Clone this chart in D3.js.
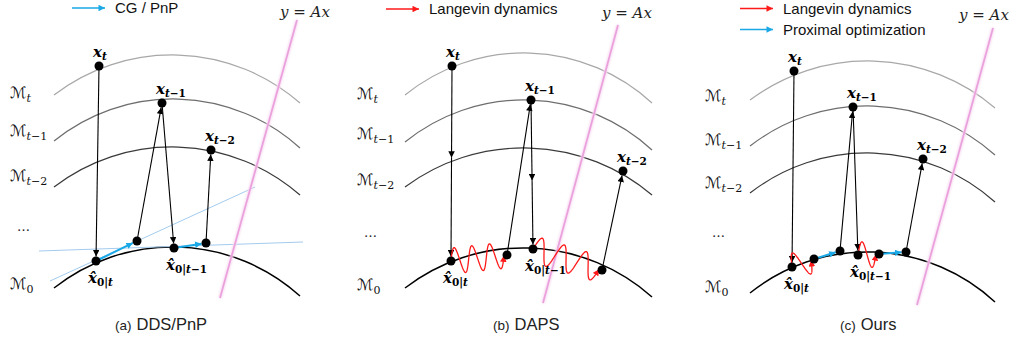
<!DOCTYPE html>
<html>
<head>
<meta charset="utf-8">
<script src="https://cdn.jsdelivr.net/npm/d3@7"></script>
<style>
  body { margin: 0; background: #fff; }
  svg { display: block; }
</style>
</head>
<body>
<svg id="fig" width="1011" height="341"></svg>
<script>
// ---- data (panel-local units, one panel is 340 wide) ----
const captionTags = ['(a)', '(b)', '(c)'];
const captionNames = ['DDS/PnP', 'DAPS', 'Ours'];
const levelSubs = ['t', 't−1', 't−2', null, '0'];

// manifolds: [xStart, yStart, yPeak, xEnd, yEnd]
const arcsA = [[54, 95, 55, 300, 103], [54, 141, 99, 300, 148], [54, 187, 147, 300, 195], [54, 288, 247, 300, 296]];
const arcsB = [[65, 95, 53, 312, 103], [65, 142, 100, 312, 150], [65, 187, 148, 312, 195], [65, 288, 248, 312, 297]];
const arcsC = [[70, 100, 61, 315, 108], [70, 146, 106, 315, 155], [70, 193, 153, 315, 202], [70, 293, 252, 315, 302]];
const levelLabelY = [[98, 136, 181, 231, 289], [99, 139, 185, 237, 290], [101, 145, 188, 237, 292]];
const levelLabelX = [10, 17, 25];

const pointsA = { xt: [99, 66], xt1: [162, 103], xt2: [211, 150], h0t: [96, 261], p1: [137, 241], h0t1: [174, 248], p2: [206, 243] };
const pointsB = { xt: [112, 66], xt1: [191, 100], xt2: [283, 171], h0t: [111, 261], p1: [167, 255], h0t1: [193, 249], p2: [262, 270] };
const pointsC = { xt: [114, 71], xt1: [173, 107], xt2: [243, 159], h0t: [112, 267], q1: [134, 259], p1: [160, 251], h0t1: [178, 255], q2: [199, 254], p2: [226, 252] };

const pointLabels = { xt: 't', xt1: 't−1', xt2: 't−2' };
const hatLabels = { h0t: '0|t', h0t1: '0|t−1' };

// black arrows [from, to, midFraction]
const blackA = [['xt', 'h0t'], ['p1', 'xt1'], ['xt1', 'h0t1'], ['p2', 'xt2']];
const blackB = [['xt', 'h0t', 0.47], ['p1', 'xt1'], ['xt1', 'h0t1', 0.54], ['p2', 'xt2']];
const blackC = [['xt', 'h0t'], ['p1', 'xt1'], ['xt1', 'h0t1'], ['p2', 'xt2']];
const blueA = [['h0t', 'p1'], ['h0t1', 'p2']];
const blueC = [['q1', 'p1'], ['q2', 'p2']];
// Langevin waves [from, to, cycles]
const redB = [['h0t', 'p1', 3], ['h0t1', 'p2', 3]];
const redC = [['h0t', 'q1', 1], ['h0t1', 'q2', 1]];
const tangentsA = [[[50, 281], [255, 187]], [[39, 251], [303, 242]]];

const pinkLines = [[[297, 20], [220, 298]], [[278, 25], [203, 303]], [[313, 28], [237, 305]]];
const eqPos = [[280, 17], [262, 18], [279, 20]];
const legends = [
  [['blue', 'CG / PnP']],
  [['red', 'Langevin dynamics']],
  [['red', 'Langevin dynamics'], ['blue', 'Proximal optimization']]
];
const legendPos = [[72, 8], [46, 9], [60, 8.5]];
const captionX = [115, 153, 160];

const arcColors = ['#a8a8a8', '#6e6e6e', '#3a3a3a', '#000'];
const BLUE = '#1aa9e6', RED = '#ff1a1a';

const panels = [
  { arcs: arcsA, pts: pointsA, black: blackA, blue: blueA, red: [], tangents: tangentsA },
  { arcs: arcsB, pts: pointsB, black: blackB, blue: [], red: redB, tangents: [] },
  { arcs: arcsC, pts: pointsC, black: blackC, blue: blueC, red: redC, tangents: [] }
];

const svg = d3.select('#fig');
const y = d3.scaleLinear().domain([0, 341]).range([0, 341]);
const R = 4.5;

const defs = svg.append('defs');
[['black', '#000'], ['blue', BLUE], ['red', RED]].forEach(([id, c]) => {
  defs.append('marker')
    .attr('id', 'ah-' + id)
    .attr('viewBox', '0 0 10 10')
    .attr('refX', 10).attr('refY', 5)
    .attr('markerWidth', 7).attr('markerHeight', 6.5)
    .attr('markerUnits', 'userSpaceOnUse')
    .attr('orient', 'auto')
    .append('path').attr('d', 'M0,0 L10,5 L0,10 z').attr('fill', c);
});
defs.append('filter').attr('id', 'glow').attr('x', '-50%').attr('y', '-10%').attr('width', '200%').attr('height', '120%')
  .append('feGaussianBlur').attr('stdDeviation', 1.2);

function circleFrom3(a, b, c) {
  const [x1, y1] = a, [x2, y2] = b, [x3, y3] = c;
  const d = 2 * (x1 * (y2 - y3) + x2 * (y3 - y1) + x3 * (y1 - y2));
  const ux = ((x1 * x1 + y1 * y1) * (y2 - y3) + (x2 * x2 + y2 * y2) * (y3 - y1) + (x3 * x3 + y3 * y3) * (y1 - y2)) / d;
  const uy = ((x1 * x1 + y1 * y1) * (x3 - x2) + (x2 * x2 + y2 * y2) * (x1 - x3) + (x3 * x3 + y3 * y3) * (x2 - x1)) / d;
  return [ux, uy, Math.hypot(x1 - ux, y1 - uy)];
}

function shorten(a, b, r) {
  const dx = b[0] - a[0], dy = b[1] - a[1], L = Math.hypot(dx, dy);
  return [b[0] - dx / L * r, b[1] - dy / L * r];
}

function subText(sel, sub, size, dy) {
  // italic letters, upright digits/signs
  const parts = sub.match(/[a-z]+|[^a-z]+/g);
  parts.forEach((p, k) => {
    const t = sel.append('tspan').attr('font-size', size).text(p)
      .attr('font-style', /[a-z]/.test(p) ? 'italic' : 'normal');
    if (k === 0) t.attr('dy', dy);
  });
}

panels.forEach((P, i) => {
  const x = d3.scaleLinear().domain([0, 340]).range([i * 340, i * 340 + 340]);
  const g = svg.append('g');
  const px = p => [x(p[0]), y(p[1])];

  // manifolds
  P.arcs.forEach((a, k) => {
    const s = px([a[0], a[1]]), e = px([a[3], a[4]]), m = px([(a[0] + a[3]) / 2, a[2]]);
    const [cx, cy, r] = circleFrom3(s, m, e);
    const path = d3.path();
    path.arc(cx, cy, r, Math.atan2(s[1] - cy, s[0] - cx), Math.atan2(e[1] - cy, e[0] - cx));
    g.append('path').attr('d', path.toString()).attr('fill', 'none')
      .attr('stroke', arcColors[k]).attr('stroke-width', k === 3 ? 1.5 : 1.2);
  });

  // manifold labels
  levelSubs.forEach((s, k) => {
    const ly = y(levelLabelY[i][k]);
    if (s === null) {
      g.append('text').attr('x', x(levelLabelX[i] + 7)).attr('y', ly)
        .attr('font-family', 'DejaVu Serif').attr('font-size', 13).attr('fill', '#222').text('…');
      return;
    }
    const t = g.append('text').attr('x', x(levelLabelX[i])).attr('y', ly)
      .attr('font-family', 'DejaVu Serif').attr('fill', '#111');
    t.append('tspan').attr('font-family', 'DejaVu Sans').attr('font-size', 15.5).text('ℳ');
    subText(t, s, 11, 4);
  });

  // tangent lines
  P.tangents.forEach(([a, b]) => {
    g.append('line').attr('x1', x(a[0])).attr('y1', y(a[1])).attr('x2', x(b[0])).attr('y2', y(b[1]))
      .attr('stroke', '#a3cbee').attr('stroke-width', 1);
  });

  // y = Ax line
  const [pa, pb] = pinkLines[i];
  g.append('line').attr('x1', x(pa[0])).attr('y1', y(pa[1])).attr('x2', x(pb[0])).attr('y2', y(pb[1]))
    .attr('stroke', '#f7daf1').attr('stroke-width', 3.5).attr('filter', 'url(#glow)');
  g.append('line').attr('x1', x(pa[0])).attr('y1', y(pa[1])).attr('x2', x(pb[0])).attr('y2', y(pb[1]))
    .attr('stroke', '#eaa0dc').attr('stroke-width', 1.7);

  const eq = g.append('text').attr('x', x(eqPos[i][0])).attr('y', y(eqPos[i][1]))
    .attr('font-family', 'DejaVu Serif').attr('font-size', 15).attr('fill', '#222');
  eq.append('tspan').attr('font-style', 'italic').text('y');
  eq.append('tspan').text(' = ');
  eq.append('tspan').attr('font-style', 'italic').text('Ax');

  // black arrows
  P.black.forEach(([f, t, mid]) => {
    const a = px(P.pts[f]), b = px(P.pts[t]);
    const end = shorten(a, b, R);
    if (mid) {
      const m = [a[0] + (b[0] - a[0]) * mid, a[1] + (b[1] - a[1]) * mid];
      g.append('line').attr('x1', a[0]).attr('y1', a[1]).attr('x2', m[0]).attr('y2', m[1])
        .attr('stroke', '#000').attr('stroke-width', 1.1).attr('marker-end', 'url(#ah-black)');
      g.append('line').attr('x1', m[0]).attr('y1', m[1]).attr('x2', end[0]).attr('y2', end[1])
        .attr('stroke', '#000').attr('stroke-width', 1.1).attr('marker-end', 'url(#ah-black)');
    } else {
      g.append('line').attr('x1', a[0]).attr('y1', a[1]).attr('x2', end[0]).attr('y2', end[1])
        .attr('stroke', '#000').attr('stroke-width', 1.1).attr('marker-end', 'url(#ah-black)');
    }
  });

  // Langevin waves
  P.red.forEach(([f, t, cycles]) => {
    const a = px(P.pts[f]), b0 = px(P.pts[t]);
    const b = shorten(a, b0, 3);
    const dx = b[0] - a[0], dy = b[1] - a[1], L = Math.hypot(dx, dy);
    const nx = dy / L, ny = -dx / L;
    const pts = d3.range(0, 121).map(k => {
      const s = k / 120, off = 13 * Math.sin(2 * Math.PI * cycles * s);
      return [a[0] + dx * s + nx * off, a[1] + dy * s + ny * off];
    });
    g.append('path').attr('d', d3.line()(pts)).attr('fill', 'none')
      .attr('stroke', RED).attr('stroke-width', 1.3).attr('marker-end', 'url(#ah-red)');
  });

  // proximal / CG steps
  P.blue.forEach(([f, t]) => {
    const a = px(P.pts[f]), b = shorten(a, px(P.pts[t]), R);
    g.append('line').attr('x1', a[0]).attr('y1', a[1]).attr('x2', b[0]).attr('y2', b[1])
      .attr('stroke', BLUE).attr('stroke-width', 2).attr('marker-end', 'url(#ah-blue)');
  });

  // points
  Object.keys(P.pts).forEach(k => {
    const p = px(P.pts[k]);
    g.append('circle').attr('cx', p[0]).attr('cy', p[1]).attr('r', R).attr('fill', '#000');
  });

  // point labels
  Object.keys(pointLabels).forEach(k => {
    const p = px(P.pts[k]);
    const t = g.append('text').attr('x', p[0] - 6).attr('y', p[1] - 9)
      .attr('font-family', 'DejaVu Serif').attr('font-weight', 'bold').attr('fill', '#000');
    t.append('tspan').attr('font-size', 15).attr('font-style', 'italic').text('x');
    subText(t, pointLabels[k], 10.5, 3);
  });
  Object.keys(hatLabels).forEach(k => {
    const p = px(P.pts[k]);
    const t = g.append('text').attr('x', p[0] - 8).attr('y', p[1] + 22)
      .attr('font-family', 'DejaVu Serif').attr('font-weight', 'bold').attr('fill', '#000');
    t.append('tspan').attr('font-size', 15).attr('font-style', 'italic').text('x\u0302');
    subText(t, hatLabels[k], 10.5, 3);
  });

  // legend
  legends[i].forEach(([kind, label], k) => {
    const lx = x(legendPos[i][0]), ly = y(legendPos[i][1] + k * 21);
    const c = kind === 'blue' ? BLUE : RED;
    g.append('line').attr('x1', lx).attr('y1', ly).attr('x2', lx + 33).attr('y2', ly)
      .attr('stroke', c).attr('stroke-width', 1.6).attr('marker-end', 'url(#ah-' + kind + ')');
    g.append('text').attr('x', lx + 43).attr('y', ly + 5)
      .attr('font-family', 'Liberation Sans, Arial, sans-serif').attr('font-size', 15).attr('fill', '#111')
      .text(label);
  });

  // caption
  const cap = g.append('text').attr('x', x(captionX[i])).attr('y', y(330))
    .attr('font-family', 'Liberation Sans, Arial, sans-serif').attr('fill', '#222');
  cap.append('tspan').attr('font-size', 13.5).text(captionTags[i]);
  cap.append('tspan').attr('font-size', 16.5).attr('dx', 5).text(captionNames[i]);
});
</script>
</body>
</html>
